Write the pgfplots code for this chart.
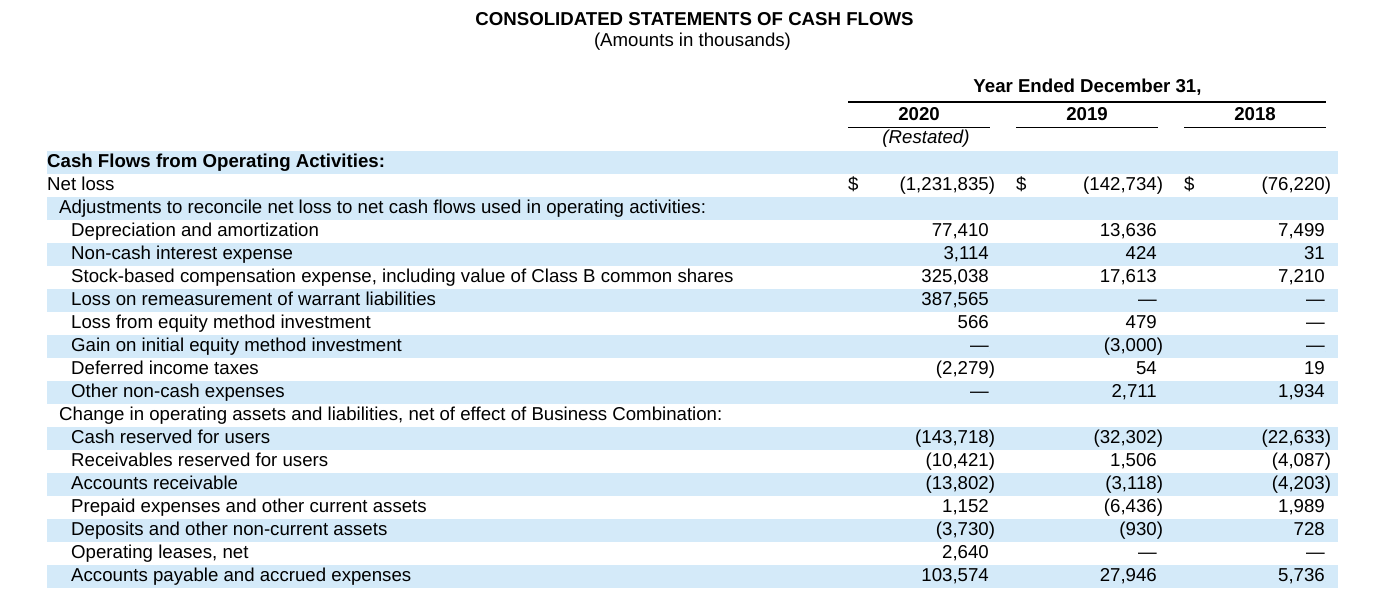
\documentclass[border=0pt]{standalone}
\usepackage{fontspec}
\setmainfont{Liberation Sans}
\usepackage{pgfplots}
\usepackage{pgfplotstable}
\pgfplotsset{compat=1.18}
\definecolor{stripe}{RGB}{212,234,249}

% row index (0 = "Cash Flows from Operating Activities:"), values in thousands; 0 = dash
\pgfplotstableread{
row c2020 c2019 c2018
1 -1231835 -142734 -76220
3 77410 13636 7499
4 3114 424 31
5 325038 17613 7210
6 387565 0 0
7 566 479 0
8 0 -3000 0
9 -2279 54 19
10 0 2711 1934
12 -143718 -32302 -22633
13 -10421 1506 -4087
14 -13802 -3118 -4203
15 1152 -6436 1989
16 -3730 -930 728
17 2640 0 0
18 103574 27946 5736
}\cashdata

\pgfkeys{/pgf/number format/.cd,fixed,precision=0,1000 sep={,},assume math mode=true}
\def\zerostr{0}
\def\fmtsign#1#2\relax{\ifx-#1(\pgfmathprintnumber{#2}\rlap{)}\else\pgfmathprintnumber{#1#2}\fi}
\newcommand\fmtval[1]{\edef\tmpv{#1}\ifx\tmpv\zerostr\textemdash\else\expandafter\fmtsign\tmpv\relax\fi}
\newcommand\lab[3]{\node[anchor=base west,inner sep=0pt] at (axis cs:#2,{167+23*#1}) {#3};}

\pgfplotsset{valcol/.style={only marks, mark=*, mark size=0pt, mark options={draw=none,fill=none},
  point meta=explicit symbolic, nodes near coords={\fmtval{\pgfplotspointmeta}},
  nodes near coords style={anchor=base east, inner sep=0pt}}}

\begin{document}
\fontsize{18.65}{22}\selectfont
\begin{tikzpicture}
\begin{axis}[width=1374pt,height=608pt,scale only axis,xmin=0,xmax=1374,ymin=0,ymax=608,
  y dir=reverse,axis lines=none,clip=false,xtick=\empty,ytick=\empty]
\path (axis cs:0,0) rectangle (axis cs:1374,608);
\pgfplotsinvokeforeach{0,2,...,18}{\fill[stripe] (axis cs:47,{150.5+23*#1}) rectangle (axis cs:1338,{173.5+23*#1});}

\node[anchor=base,inner sep=0pt,font=\bfseries] at (axis cs:694.5,25) {CONSOLIDATED STATEMENTS OF CASH FLOWS};
\node[anchor=base,inner sep=0pt] at (axis cs:692.5,46) {(Amounts in thousands)};
\node[anchor=base,inner sep=0pt,font=\bfseries] at (axis cs:1087.5,92.7) {Year Ended December 31,};
\draw[line width=1.6pt] (axis cs:848,102) -- (axis cs:1326,102);
\node[anchor=base,inner sep=0pt,font=\bfseries] at (axis cs:919,120) {2020};
\node[anchor=base,inner sep=0pt,font=\bfseries] at (axis cs:1087,120) {2019};
\node[anchor=base,inner sep=0pt,font=\bfseries] at (axis cs:1255,120) {2018};
\draw[line width=1.6pt] (axis cs:848,127.5) -- (axis cs:990,127.5);
\draw[line width=1.6pt] (axis cs:1016,127.5) -- (axis cs:1158,127.5);
\draw[line width=1.6pt] (axis cs:1184,127.5) -- (axis cs:1326,127.5);
\node[anchor=base,inner sep=0pt,font=\itshape] at (axis cs:926,143.5) {(Restated)};

\lab{0}{47}{\textbf{Cash Flows from Operating Activities:}}
\lab{1}{47}{Net loss}
\lab{2}{59}{Adjustments to reconcile net loss to net cash flows used in operating activities:}
\lab{3}{71}{Depreciation and amortization}
\lab{4}{71}{Non-cash interest expense}
\lab{5}{71}{Stock-based compensation expense, including value of Class B common shares}
\lab{6}{71}{Loss on remeasurement of warrant liabilities}
\lab{7}{71}{Loss from equity method investment}
\lab{8}{71}{Gain on initial equity method investment}
\lab{9}{71}{Deferred income taxes}
\lab{10}{71}{Other non-cash expenses}
\lab{11}{59}{Change in operating assets and liabilities, net of effect of Business Combination:}
\lab{12}{71}{Cash reserved for users}
\lab{13}{71}{Receivables reserved for users}
\lab{14}{71}{Accounts receivable}
\lab{15}{71}{Prepaid expenses and other current assets}
\lab{16}{71}{Deposits and other non-current assets}
\lab{17}{71}{Operating leases, net}
\lab{18}{71}{Accounts payable and accrued expenses}

\node[anchor=base west,inner sep=0pt] at (axis cs:848,190) {\$};
\node[anchor=base west,inner sep=0pt] at (axis cs:1016,190) {\$};
\node[anchor=base west,inner sep=0pt] at (axis cs:1184,190) {\$};

\addplot[valcol] table[x expr=989, y expr={167+23*\thisrow{row}}, meta=c2020]{\cashdata};
\addplot[valcol] table[x expr=1157, y expr={167+23*\thisrow{row}}, meta=c2019]{\cashdata};
\addplot[valcol] table[x expr=1325, y expr={167+23*\thisrow{row}}, meta=c2018]{\cashdata};
\end{axis}
\end{tikzpicture}
\end{document}
